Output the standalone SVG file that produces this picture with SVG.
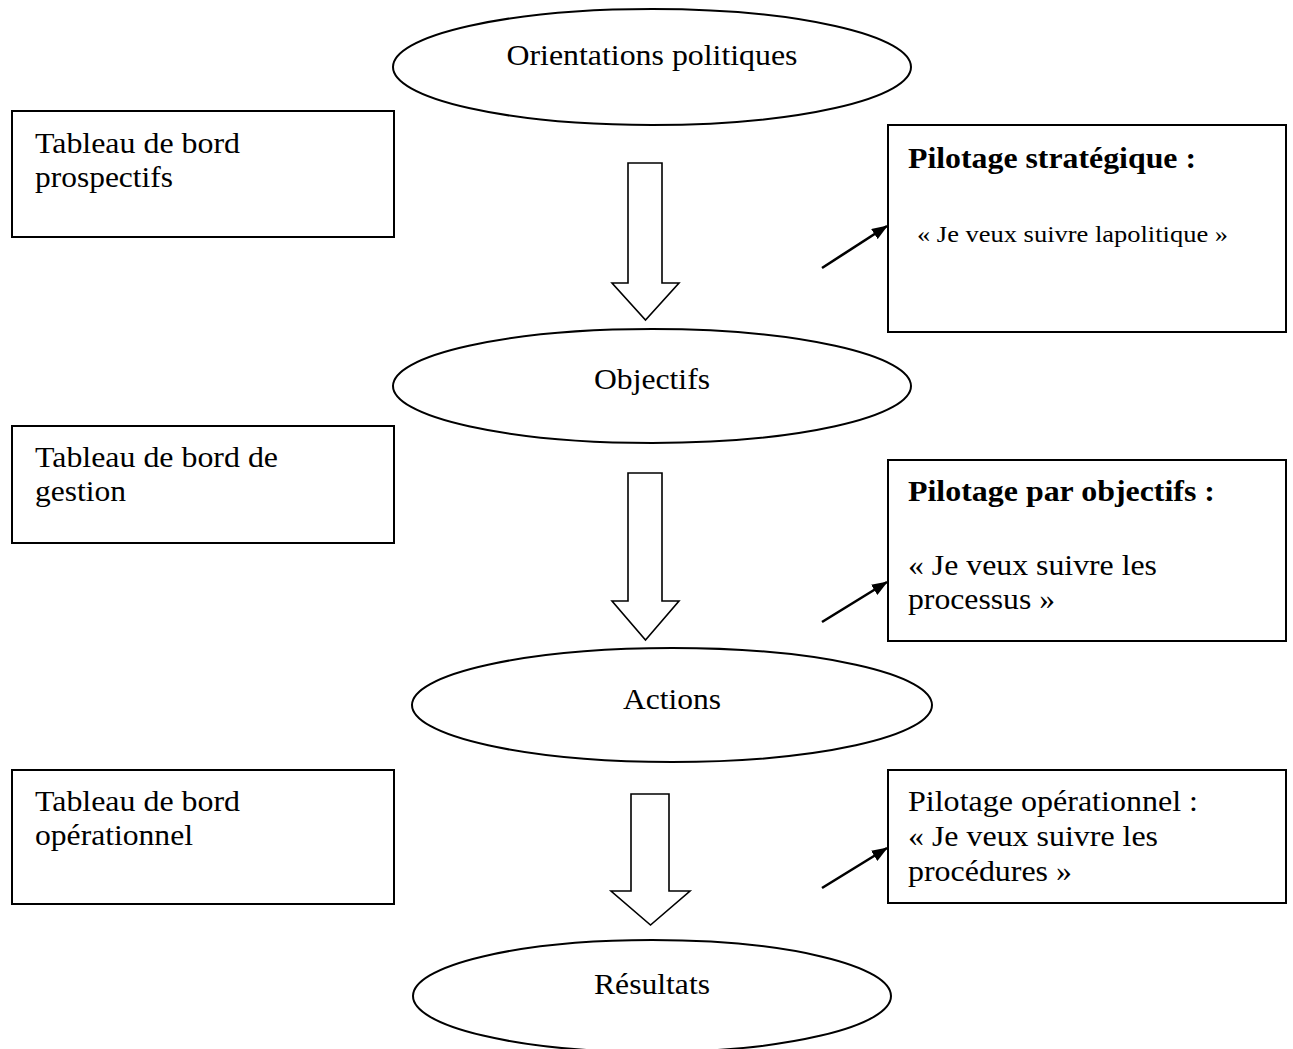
<svg xmlns="http://www.w3.org/2000/svg" width="1293" height="1049" viewBox="0 0 1293 1049">
  <style>
    .shape { fill: #ffffff; stroke: #000000; stroke-width: 2; }
    .block { fill: #ffffff; stroke: #000000; stroke-width: 1.6; stroke-linejoin: miter; }
    .t { font-family: "Liberation Serif", "Times New Roman", serif; font-size: 30px; fill: #000000; }
    .b { font-weight: bold; }
    .sm { font-size: 24px; }
    .mid { text-anchor: middle; }
    .link { stroke: #000000; stroke-width: 2.6; fill: none; }
  </style>
  <defs>
    <marker id="head" viewBox="0 0 16 12" refX="15" refY="6" markerWidth="16" markerHeight="12" markerUnits="userSpaceOnUse" orient="auto">
      <path d="M0,0 L16,6 L0,12 z" fill="#000000"/>
    </marker>
  </defs>
  <rect width="1293" height="1049" fill="#ffffff"/>

  <!-- central chain: ellipses -->
  <g id="orientations">
    <ellipse class="shape" cx="652" cy="67" rx="259" ry="58"/>
    <text class="t mid" x="652" y="65" textLength="291" lengthAdjust="spacingAndGlyphs">Orientations politiques</text>
  </g>
  <g id="objectifs">
    <ellipse class="shape" cx="652" cy="386" rx="259" ry="57"/>
    <text class="t mid" x="652" y="389" textLength="116" lengthAdjust="spacingAndGlyphs">Objectifs</text>
  </g>
  <g id="actions">
    <ellipse class="shape" cx="672" cy="705" rx="260" ry="57"/>
    <text class="t mid" x="672" y="709" textLength="98" lengthAdjust="spacingAndGlyphs">Actions</text>
  </g>
  <g id="resultats">
    <ellipse class="shape" cx="652" cy="996" rx="239" ry="56"/>
    <text class="t mid" x="652" y="994" textLength="116" lengthAdjust="spacingAndGlyphs">Résultats</text>
  </g>

  <!-- left column: dashboards -->
  <g id="tb-prospectifs">
    <rect class="shape" x="12" y="111" width="382" height="126"/>
    <text class="t" x="35" y="153" textLength="205" lengthAdjust="spacingAndGlyphs">Tableau de bord</text>
    <text class="t" x="35" y="187" textLength="138" lengthAdjust="spacingAndGlyphs">prospectifs</text>
  </g>
  <g id="tb-gestion">
    <rect class="shape" x="12" y="426" width="382" height="117"/>
    <text class="t" x="35" y="467" textLength="243" lengthAdjust="spacingAndGlyphs">Tableau de bord de</text>
    <text class="t" x="35" y="501" textLength="91" lengthAdjust="spacingAndGlyphs">gestion</text>
  </g>
  <g id="tb-operationnel">
    <rect class="shape" x="12" y="770" width="382" height="134"/>
    <text class="t" x="35" y="811" textLength="205" lengthAdjust="spacingAndGlyphs">Tableau de bord</text>
    <text class="t" x="35" y="845" textLength="158" lengthAdjust="spacingAndGlyphs">opérationnel</text>
  </g>

  <!-- right column: steering levels -->
  <g id="pilotage-strategique">
    <rect class="shape" x="888" y="125" width="398" height="207"/>
    <text class="t b" x="908" y="168" textLength="288" lengthAdjust="spacingAndGlyphs">Pilotage stratégique :</text>
    <text class="t sm" x="917" y="242" textLength="311" lengthAdjust="spacingAndGlyphs">« Je veux suivre lapolitique »</text>
  </g>
  <g id="pilotage-objectifs">
    <rect class="shape" x="888" y="460" width="398" height="181"/>
    <text class="t b" x="908" y="501" textLength="307" lengthAdjust="spacingAndGlyphs">Pilotage par objectifs :</text>
    <text class="t" x="908" y="575" textLength="249" lengthAdjust="spacingAndGlyphs">« Je veux suivre les</text>
    <text class="t" x="908" y="609" textLength="147" lengthAdjust="spacingAndGlyphs">processus »</text>
  </g>
  <g id="pilotage-operationnel">
    <rect class="shape" x="888" y="770" width="398" height="133"/>
    <text class="t" x="908" y="811" textLength="290" lengthAdjust="spacingAndGlyphs">Pilotage opérationnel :</text>
    <text class="t" x="908" y="846" textLength="250" lengthAdjust="spacingAndGlyphs">« Je veux suivre les</text>
    <text class="t" x="908" y="881" textLength="164" lengthAdjust="spacingAndGlyphs">procédures »</text>
  </g>

  <!-- connectors: hollow block arrows and small pointers -->
  <g id="connectors">
    <path class="block" d="M628,163 H662 V283 H679 L645.5,320 L612,283 H628 Z"/>
    <path class="block" d="M628,473 H662 V601 H679 L645.5,640 L612,601 H628 Z"/>
    <path class="block" d="M631,794 H669 V891 H690 L650.5,925 L611,891 H631 Z"/>
    <line class="link" x1="822" y1="268" x2="887" y2="226" marker-end="url(#head)"/>
    <line class="link" x1="822" y1="622" x2="887" y2="582" marker-end="url(#head)"/>
    <line class="link" x1="822" y1="888" x2="887" y2="848" marker-end="url(#head)"/>
  </g>
</svg>
